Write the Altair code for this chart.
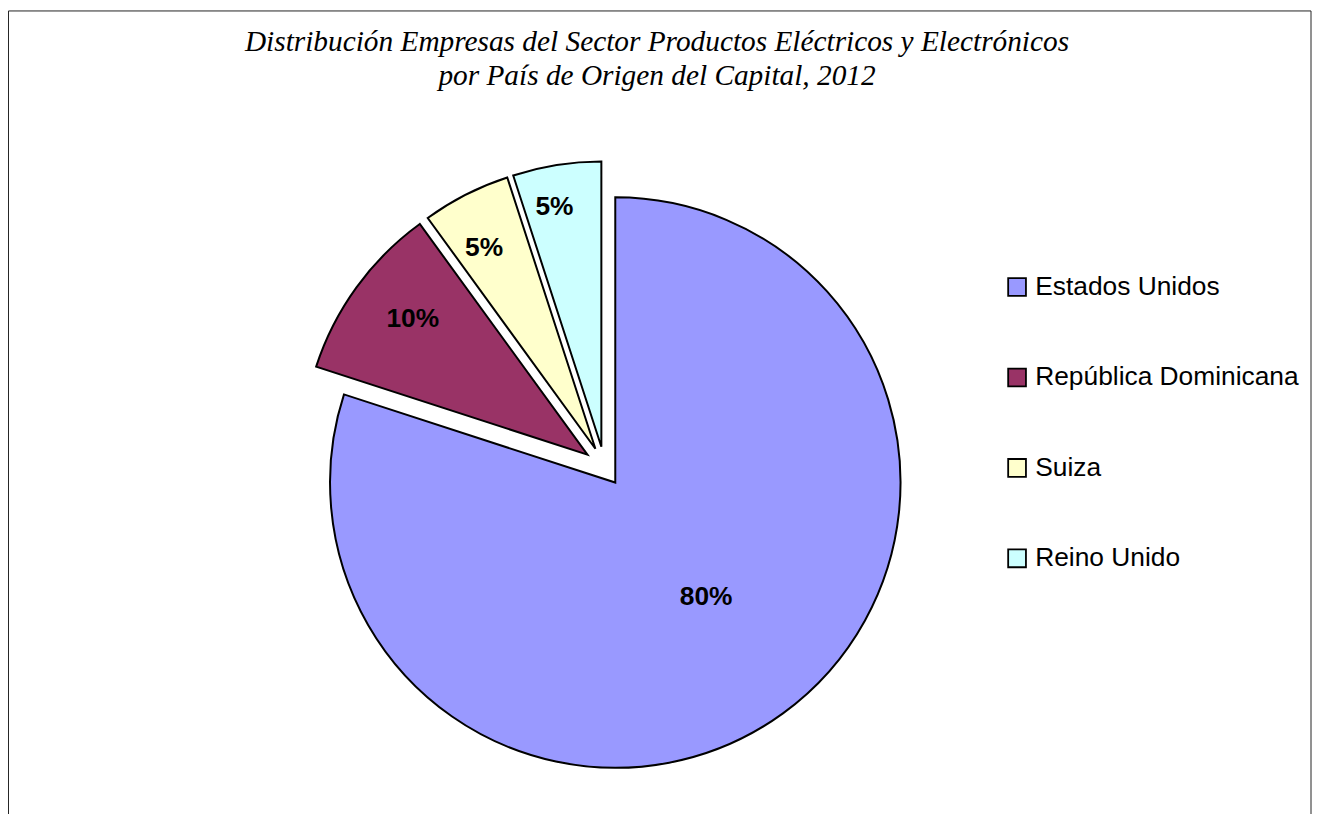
import altair as alt
import pandas as pd

paises = ["Estados Unidos", "República Dominicana", "Suiza", "Reino Unido"]
valores = [80, 10, 5, 5]
colores = ["#9999FF", "#993366", "#FFFFCC", "#CCFFFF"]
titulo = ["Distribución Empresas del Sector Productos Eléctricos y Electrónicos",
          "por País de Origen del Capital, 2012"]

df = pd.DataFrame({"pais": paises, "valor": valores, "orden": list(range(len(paises)))})

# style: center of pie (view px), radius, per-slice explosion offsets,
# label radius and small label nudges
CX, CY, R = 611, 475, 287
estilo = {
    "Estados Unidos": (0, 0, 147, 5, -4),
    "República Dominicana": (-28, -28, 221, 3, -7),
    "Suiza": (-20, -34, 229, -8, 2),
    "Reino Unido": (-14, -36, 244, -9, 0),
}

base = alt.Chart(df).transform_joinaggregate(
    total="sum(valor)"
).transform_window(
    cum="sum(valor)", sort=[alt.SortField("orden")]
).transform_calculate(
    a1="2*PI*datum.cum/datum.total",
    a0="2*PI*(datum.cum-datum.valor)/datum.total",
    pct="format(datum.valor/datum.total, '.0%')",
)

color = alt.Color("pais:N", scale=alt.Scale(domain=paises, range=colores),
                  sort=paises,
                  legend=alt.Legend(title=None, orient="none", legendX=1002, legendY=265,
                                    symbolType="square", symbolSize=320,
                                    symbolStrokeColor="black", symbolStrokeWidth=1.8,
                                    labelFont="Liberation Sans", labelFontSize=26.5,
                                    labelColor="black", labelOffset=5,
                                    rowPadding=64, labelLimit=400))

layers = []
for p in paises:
    dx, dy, lr, ndx, ndy = estilo[p]
    sub = base.transform_filter(alt.datum.pais == p)
    arc = sub.mark_arc(stroke="black", strokeWidth=2, outerRadius=R).encode(
        theta=alt.Theta("a0:Q", scale=None),
        theta2="a1:Q",
        color=color,
        x=alt.value(CX + dx),
        y=alt.value(CY + dy),
    )
    lab = sub.transform_calculate(
        lx=f"{CX + dx} + {lr}*sin((datum.a0+datum.a1)/2)",
        ly=f"{CY + dy} - {lr}*cos((datum.a0+datum.a1)/2)",
    ).mark_text(font="Liberation Sans", fontWeight="bold", fontSize=26.5,
                color="black", align="center", baseline="middle",
                dx=ndx, dy=ndy).encode(
        x=alt.X("lx:Q", scale=None),
        y=alt.Y("ly:Q", scale=None),
        text="pct:N",
    )
    layers += [arc, lab]

frame = alt.Chart(alt.Data(values=[{"k": 1}])).mark_rect(
    fill="white", stroke="#222222", strokeWidth=1
).encode(x=alt.value(0.5), x2=alt.value(1311), y=alt.value(0.5), y2=alt.value(820))

chart = alt.layer(frame, *layers).properties(
    width=1312, height=806,
    autosize=alt.AutoSizeParams(type="none"),
    padding=0,
    title=alt.TitleParams(text=titulo, font="Liberation Serif", fontStyle="italic",
                          fontWeight="normal", fontSize=29.5, lineHeight=35,
                          color="black", anchor="middle", dy=86, dx=-3),
).configure_view(stroke=None)

chart.save("out.html", embed_options={"renderer": "svg", "actions": False})
